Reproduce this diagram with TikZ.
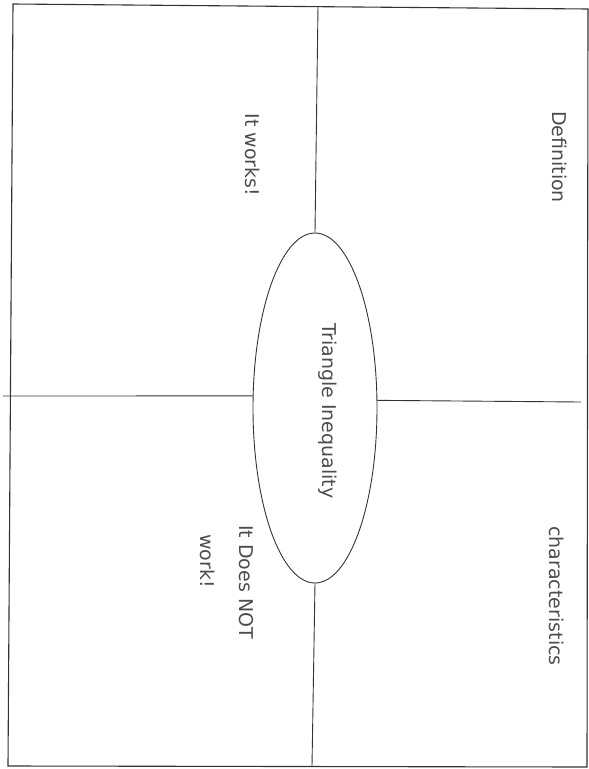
\documentclass[tikz,border=0pt]{standalone}
\usepackage{fontspec}
\setmainfont{DejaVu Sans}
\usetikzlibrary{shapes.geometric}
\begin{document}
\begin{tikzpicture}[x=1pt,y=-1pt,
  frame/.style={draw=black!80,line width=1.1pt},
  divider/.style={draw=black!80,line width=0.9pt},
  lbl/.style={rotate=-90,font=\fontsize{19}{22}\selectfont,inner sep=0pt,text=black!70}]
\useasboundingbox (0,0) rectangle (589,769);
% outer frame
\coordinate (tl) at (13,4);
\coordinate (tr) at (588,9);
\coordinate (br) at (587,767);
\coordinate (bl) at (8,766);
\draw[frame] (tl) -- (tr) -- (br) -- (bl) -- cycle;
% central ellipse
\node[ellipse,draw=black!80,line width=0.9pt,minimum width=124pt,minimum height=350pt,inner sep=0pt] (c) at (315,408) {};
% dividers
\coordinate (vt) at (318,6);
\coordinate (vb) at (312,766);
\coordinate (hl) at (3,396);
\coordinate (hr) at (581,402);
\draw[divider] (vt) -- (c.north);
\draw[divider] (c.south) -- (vb);
\draw[divider] (hl) -- (c.169);
\draw[divider] (c.7) -- (hr);
% labels
\node[lbl] (works) at (253,155) {It works!};
\node[lbl] (def) at (560,157) {Definition};
\node[lbl] (tri) at (328,411) {Triangle Inequality};
\node[lbl] (doesnot) at (246,582) {It Does NOT};
\node[lbl] (work) at (208,561) {work!};
\node[lbl] (char) at (557,596) {characteristics};
\end{tikzpicture}
\end{document}
